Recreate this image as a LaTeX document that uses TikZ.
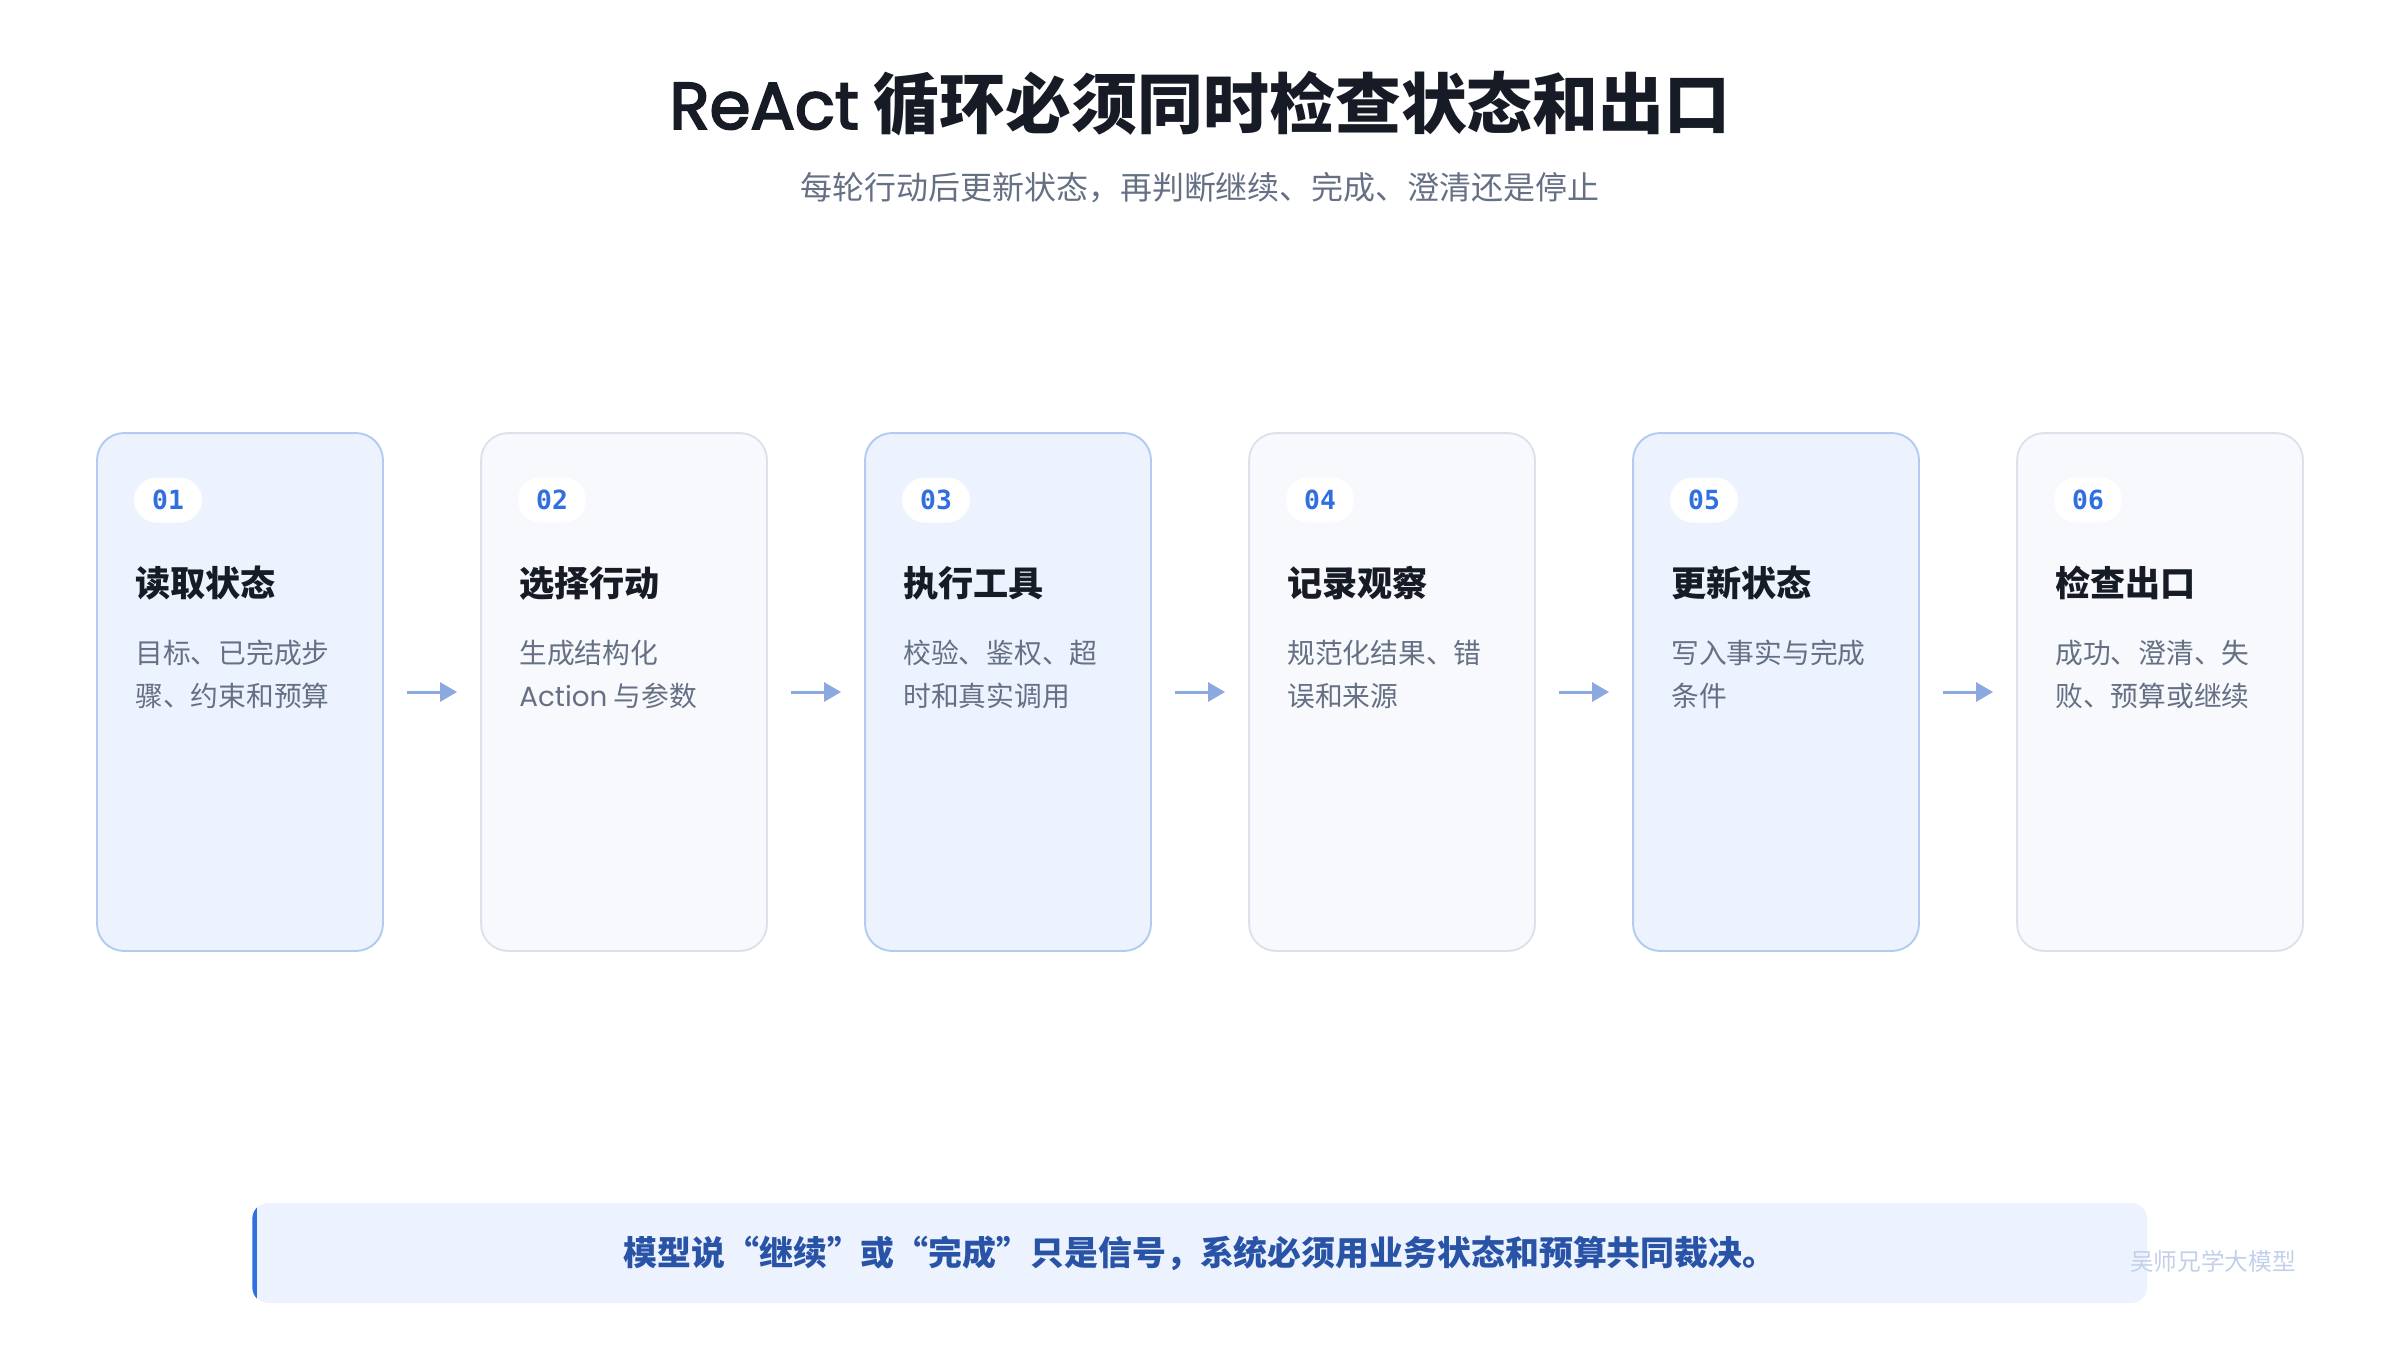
\documentclass[tikz,border=0pt]{standalone}
\usepackage{fontspec}
\setmainfont{Noto Sans CJK SC}
\setmonofont{DejaVu Sans Mono}
\newfontfamily\geo{Poppins}
\newfontfamily\geobold{Poppins}[UprightFeatures={FakeBold=3}]
\usetikzlibrary{arrows.meta}
\definecolor{Ink}{HTML}{161B26}
\definecolor{Slate}{HTML}{667085}
\definecolor{BrandBlue}{HTML}{2F6FDF}
\definecolor{NoteBlue}{HTML}{2853A6}
\definecolor{PaleBlue}{HTML}{EDF3FE}
\definecolor{EdgeBlue}{HTML}{B3CBF1}
\definecolor{PaleGrey}{HTML}{F7F9FC}
\definecolor{EdgeGrey}{HTML}{DBE2EC}
\definecolor{ArrowBlue}{HTML}{8AA9DF}
\definecolor{Ghost}{HTML}{C3D0EA}

\begin{document}
\begin{tikzpicture}[x=0.02cm,y=-0.02cm,
      bluecard/.style={draw=EdgeBlue,fill=PaleBlue,line width=1.1pt,
                       rounded corners=0.54cm,minimum width=5.72cm,minimum height=10.36cm},
      greycard/.style={bluecard,draw=EdgeGrey,fill=PaleGrey},
      badge/.style={fill=white,rounded corners=0.45cm,minimum width=1.36cm,
                    minimum height=0.9cm,inner sep=0pt,text=BrandBlue,
                    font=\ttfamily\bfseries\fontsize{15}{18}\selectfont},
      ctitle/.style={anchor=west,inner sep=0pt,text=Ink,
                     font=\bfseries\fontsize{20}{22}\selectfont},
      cdesc/.style={anchor=base west,inner sep=0pt,align=left,text=Slate,
                    font=\fontsize{15.8}{24.4}\selectfont},
      flow/.style={-{Triangle[length=0.34cm,width=0.38cm]},ArrowBlue,line width=1.7pt,
                   shorten <=0.46cm,shorten >=0.46cm},
      note/.style={fill=PaleBlue,rounded corners=0.32cm,minimum width=37.9cm,
                   minimum height=2cm,text=NoteBlue,
                   font=\bfseries\fontsize{19.3}{22}\selectfont},
      wmark/.style={text=Ghost,font=\fontsize{13.5}{16}\selectfont}]
    \useasboundingbox (0,0) rectangle (2400,1350);
    % heading
    \node[text=Ink,font=\bfseries\fontsize{37.5}{44}\selectfont] (head) at (1200,104)
      {{\geobold\mdseries ReAct} 循环必须同时检查状态和出口};
    \node[text=Slate,font=\fontsize{18.2}{22}\selectfont] (sub) at (1200,188)
      {每轮行动后更新状态，再判断继续、完成、澄清还是停止};
    % cards
    \node[bluecard] (c1) at (240,692) {};
    \node[greycard] (c2) at (624,692) {};
    \node[bluecard] (c3) at (1008,692) {};
    \node[greycard] (c4) at (1392,692) {};
    \node[bluecard] (c5) at (1776,692) {};
    \node[greycard] (c6) at (2160,692) {};
    \node[badge] (b1) at (168,500) {01};
    \node[badge] (b2) at (552,500) {02};
    \node[badge] (b3) at (936,500) {03};
    \node[badge] (b4) at (1320,500) {04};
    \node[badge] (b5) at (1704,500) {05};
    \node[badge] (b6) at (2088,500) {06};
    \node[ctitle] (t1) at (135,583) {读取状态};
    \node[ctitle] (t2) at (519,583) {选择行动};
    \node[ctitle] (t3) at (903,583) {执行工具};
    \node[ctitle] (t4) at (1287,583) {记录观察};
    \node[ctitle] (t5) at (1671,583) {更新状态};
    \node[ctitle] (t6) at (2055,583) {检查出口};
    % base of a two-line node sits on its last line
    \node[cdesc] (d1) at (135,706) {目标、已完成步\\骤、约束和预算};
    \node[cdesc] (d2) at (519,706) {生成结构化\\{\geo Action} 与参数};
    \node[cdesc] (d3) at (903,706) {校验、鉴权、超\\时和真实调用};
    \node[cdesc] (d4) at (1287,706) {规范化结果、错\\误和来源};
    \node[cdesc] (d5) at (1671,706) {写入事实与完成\\条件};
    \node[cdesc] (d6) at (2055,706) {成功、澄清、失\\败、预算或继续};
    \draw[flow] (c1) -- (c2);
    \draw[flow] (c2) -- (c3);
    \draw[flow] (c3) -- (c4);
    \draw[flow] (c4) -- (c5);
    \draw[flow] (c5) -- (c6);
    % takeaway bar
    \node[note] (bar) at (1200,1253)
      {模型说“继续”或“完成”只是信号，系统必须用业务状态和预算共同裁决。};
    \begin{scope}
      \clip[rounded corners=0.32cm] (bar.south west) rectangle (bar.north east);
      \fill[BrandBlue] (bar.south west) rectangle ([xshift=0.1cm]bar.north west);
    \end{scope}
    \node[wmark] (wm) at (2213,1261) {吴师兄学大模型};
  \end{tikzpicture}
\end{document}
